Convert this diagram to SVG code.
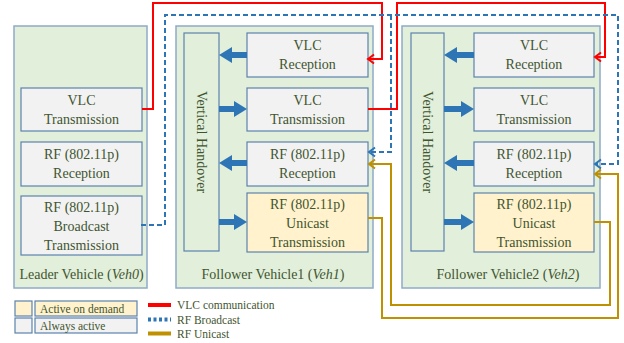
<svg xmlns="http://www.w3.org/2000/svg" width="624" height="343" viewBox="0 0 624 343" font-family="'Liberation Serif', 'DejaVu Serif', serif">
<defs>
<style>
.veh{fill:#e2efda;stroke:#8fabc9;stroke-width:1.5}
.blk{fill:#f2f2f2;stroke:#5b82ad;stroke-width:1.2}
.dem{fill:#fff2cc;stroke:#5b82ad;stroke-width:1.2}
.vh{fill:#e2efda;stroke:#5b82ad;stroke-width:1.2}
.t{font-family:'Liberation Serif', serif;font-size:14px;fill:#3f5530;text-anchor:middle}
.lt{font-family:'Liberation Serif', serif;font-size:11.5px;fill:#3f5530}
.arr{fill:#2e75b6}
.red{fill:none;stroke:#ff0000;stroke-width:2}
.bl{fill:none;stroke:#2e75b6;stroke-width:2;stroke-dasharray:5,3}
.gd{fill:none;stroke:#bf9000;stroke-width:2}
</style>
<marker id="mr" markerUnits="userSpaceOnUse" markerWidth="12" markerHeight="12" refX="0" refY="0" viewBox="-8 -6 12 12" orient="auto" overflow="visible"><path d="M-6,-4.5 L0,0 L-6,4.5" fill="none" stroke="#ff0000" stroke-width="2"/></marker>
<marker id="mb" markerUnits="userSpaceOnUse" markerWidth="12" markerHeight="12" refX="0" refY="0" viewBox="-8 -6 12 12" orient="auto" overflow="visible"><path d="M-6,-4.5 L0,0 L-6,4.5" fill="none" stroke="#2e75b6" stroke-width="2"/></marker>
<marker id="mg" markerUnits="userSpaceOnUse" markerWidth="12" markerHeight="12" refX="0" refY="0" viewBox="-8 -6 12 12" orient="auto" overflow="visible"><path d="M-6,-4.5 L0,0 L-6,4.5" fill="none" stroke="#bf9000" stroke-width="2"/></marker>
</defs>
<rect width="624" height="343" fill="#ffffff"/>

<g id="veh0">
<rect class="veh" x="14" y="26" width="133" height="262"/>
<rect class="blk" x="21" y="88" width="121" height="43"/>
<text class="t" x="81.5" y="105">VLC</text>
<text class="t" x="81.5" y="124">Transmission</text>
<rect class="blk" x="21" y="142" width="121" height="44"/>
<text class="t" x="81.5" y="159">RF (802.11p)</text>
<text class="t" x="81.5" y="178">Reception</text>
<rect class="blk" x="21" y="196" width="121" height="59"/>
<text class="t" x="81.5" y="212">RF (802.11p)</text>
<text class="t" x="81.5" y="231">Broadcast</text>
<text class="t" x="81.5" y="250">Transmission</text>
<text class="t" x="81.5" y="279">Leader Vehicle (<tspan font-style="italic">Veh0</tspan>)</text>
</g>

<g id="veh1">
<rect class="veh" x="176" y="26" width="197" height="262"/>
<rect class="vh" x="184" y="33" width="35" height="218"/>
<text class="t" transform="translate(197,142) rotate(90)">Vertical Handover</text>
<rect class="blk" x="247" y="33" width="121" height="44"/>
<text class="t" x="307.5" y="50">VLC</text>
<text class="t" x="307.5" y="69">Reception</text>
<rect class="blk" x="247" y="88" width="121" height="43"/>
<text class="t" x="307.5" y="105">VLC</text>
<text class="t" x="307.5" y="124">Transmission</text>
<rect class="blk" x="247" y="142" width="121" height="44"/>
<text class="t" x="307.5" y="159">RF (802.11p)</text>
<text class="t" x="307.5" y="178">Reception</text>
<rect class="dem" x="247" y="193" width="121" height="59"/>
<text class="t" x="307.5" y="209">RF (802.11p)</text>
<text class="t" x="307.5" y="228">Unicast</text>
<text class="t" x="307.5" y="247">Transmission</text>
<polygon class="arr" points="219,55 232,47 232,52 247,52 247,58 232,58 232,63"/>
<polygon class="arr" points="247,109 234,101 234,106 219,106 219,112 234,112 234,117"/>
<polygon class="arr" points="219,163 232,155 232,160 247,160 247,166 232,166 232,171"/>
<polygon class="arr" points="247,222 234,214 234,219 219,219 219,225 234,225 234,230"/>
<text class="t" x="273" y="279">Follower Vehicle1 (<tspan font-style="italic">Veh1</tspan>)</text>
</g>

<g id="veh2">
<rect class="veh" x="402" y="26" width="198" height="262"/>
<rect class="vh" x="411" y="33" width="33" height="218"/>
<text class="t" transform="translate(423,142) rotate(90)">Vertical Handover</text>
<rect class="blk" x="474" y="33" width="120" height="44"/>
<text class="t" x="534" y="50">VLC</text>
<text class="t" x="534" y="69">Reception</text>
<rect class="blk" x="474" y="88" width="120" height="43"/>
<text class="t" x="534" y="105">VLC</text>
<text class="t" x="534" y="124">Transmission</text>
<rect class="blk" x="474" y="142" width="120" height="44"/>
<text class="t" x="534" y="159">RF (802.11p)</text>
<text class="t" x="534" y="178">Reception</text>
<rect class="dem" x="474" y="193" width="120" height="59"/>
<text class="t" x="534" y="209">RF (802.11p)</text>
<text class="t" x="534" y="228">Unicast</text>
<text class="t" x="534" y="247">Transmission</text>
<polygon class="arr" points="444,55 457,47 457,52 474,52 474,58 457,58 457,63"/>
<polygon class="arr" points="474,109 461,101 461,106 444,106 444,112 461,112 461,117"/>
<polygon class="arr" points="444,163 457,155 457,160 474,160 474,166 457,166 457,171"/>
<polygon class="arr" points="474,222 461,214 461,219 444,219 444,225 461,225 461,230"/>
<text class="t" x="508" y="279">Follower Vehicle2 (<tspan font-style="italic">Veh2</tspan>)</text>
</g>

<g id="connectors">
<path class="red" d="M142,109 H153 V3 H382 V59 H368" marker-end="url(#mr)"/>
<path class="red" d="M368,109 H397 V3 H605 V57 H595" marker-end="url(#mr)"/>
<path class="bl" d="M141,225 H165 V15 H618 V164 H595" marker-end="url(#mb)"/>
<path class="bl" d="M391,15 V152 H369" marker-end="url(#mb)"/>
<path class="gd" d="M368,218 H382 V318 H618 V174 H595" marker-end="url(#mg)"/>
<path class="gd" d="M594,222 H610 V305 H391 V164 H369" marker-end="url(#mg)"/>
</g>

<g id="legend">
<rect class="dem" x="15" y="301" width="17" height="15"/>
<rect class="dem" x="35" y="301" width="102" height="15"/>
<text class="lt" x="40" y="312.5">Active on demand</text>
<rect class="blk" x="15" y="318" width="17" height="15"/>
<rect class="blk" x="35" y="318" width="102" height="15"/>
<text class="lt" x="40" y="329.5">Always active</text>
<line x1="148" y1="305" x2="171" y2="305" stroke="#ff0000" stroke-width="4"/>
<line x1="148" y1="319.5" x2="171" y2="319.5" stroke="#2e75b6" stroke-width="4" stroke-dasharray="3,2.5"/>
<line x1="148" y1="333.5" x2="171" y2="333.5" stroke="#bf9000" stroke-width="4"/>
<text class="lt" x="177" y="309">VLC communication</text>
<text class="lt" x="177" y="323.5">RF Broadcast</text>
<text class="lt" x="177" y="338">RF Unicast</text>
</g>
</svg>
